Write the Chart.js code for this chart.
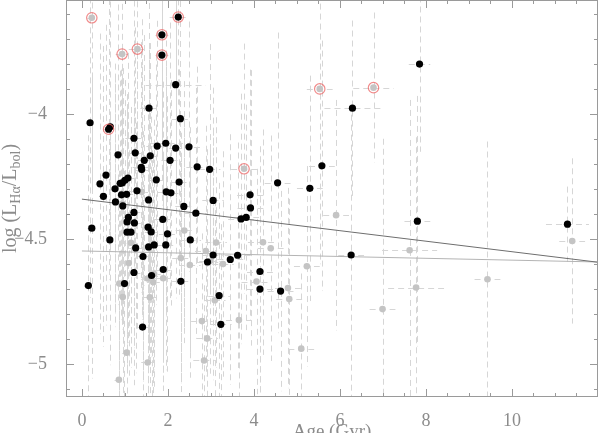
<!DOCTYPE html>
<html>
<head>
<meta charset="utf-8">
<script src="https://cdn.jsdelivr.net/npm/chart.js@4.4.0/dist/chart.umd.min.js"></script>
<style>
  html, body { margin: 0; padding: 0; background: #fff; }
  canvas { display: block; }
</style>
</head>
<body>
<canvas id="chart" width="598" height="433"></canvas>
<script>
// stars with reliable detections (black)
const blackAge = [2.24, 1.86, 1.86, 2.18, 1.56, 2.29, 0.19, 0.62, 0.66, 1.21,
  1.75, 1.95, 2.18, 2.49, 0.84, 1.24, 1.59, 1.45, 2.05, 1.38,
  1.39, 2.68, 2.97, 0.56, 1.07, 1.00, 0.94, 0.89, 0.42, 1.73,
  2.26, 4.55, 0.77, 1.28, 0.50, 0.92, 1.04, 1.96, 2.07, 3.91,
  0.78, 1.55, 3.05, 0.95, 2.37, 1.21, 2.65, 3.92, 3.70, 3.82,
  1.08, 1.88, 0.23, 0.65, 1.05, 1.22, 1.05, 1.14, 1.54, 1.61,
  1.99, 1.25, 1.55, 1.68, 1.95, 2.52, 1.42, 1.21, 1.62, 1.89,
  2.30, 0.15, 0.99, 3.05, 2.92, 3.45, 3.62, 4.14, 4.14, 4.62,
  3.19, 3.23, 1.41, 7.80, 11.29, 6.26, 7.85, 6.29, 5.58, 5.30];
const blackLogL = [-3.613, -3.684, -3.765, -3.883, -3.977, -4.019, -4.035, -4.061, -4.051, -4.097,
  -4.128, -4.117, -4.136, -4.131, -4.163, -4.155, -4.167, -4.185, -4.185, -4.213,
  -4.222, -4.211, -4.221, -4.244, -4.256, -4.265, -4.275, -4.277, -4.279, -4.263,
  -4.272, -4.275, -4.299, -4.307, -4.329, -4.323, -4.321, -4.311, -4.315, -4.323,
  -4.351, -4.343, -4.345, -4.367, -4.369, -4.393, -4.396, -4.375, -4.419, -4.413,
  -4.413, -4.421, -4.456, -4.503, -4.431, -4.435, -4.472, -4.472, -4.452, -4.471,
  -4.479, -4.535, -4.531, -4.523, -4.523, -4.503, -4.569, -4.633, -4.645, -4.621,
  -4.668, -4.685, -4.677, -4.563, -4.591, -4.581, -4.564, -4.629, -4.699, -4.707,
  -4.725, -4.840, -4.851, -4.428, -4.440, -4.563, -3.801, -3.977, -4.207, -4.297];
const blackAgeErr = [0.2, 0.15, 0.15, 0.7, 0.2, 0.2, 0.1, 0.1, 0.1, 0.2,
  0.25, 0.4, 0.15, 0.35, 0.1, 0.15, 0.15, 0.15, 0.2, 0.2,
  0.15, 0.25, 0.25, 0.1, 0.15, 0.1, 0.1, 0.1, 0.1, 0.15,
  0.2, 0.3, 0.1, 0.2, 0.1, 0.1, 0.15, 0.2, 0.2, 0.3,
  0.1, 0.15, 0.25, 0.1, 0.2, 0.15, 0.25, 0.3, 0.3, 0.3,
  0.1, 0.2, 0.1, 0.1, 0.1, 0.15, 0.1, 0.1, 0.15, 0.15,
  0.2, 0.15, 0.15, 0.15, 0.2, 0.25, 0.15, 0.15, 0.15, 0.2,
  0.2, 0.1, 0.1, 0.25, 0.25, 0.3, 0.3, 0.3, 0.3, 0.3,
  0.25, 0.25, 0.15, 0.3, 0.5, 0.3, 0.25, 0.65, 0.3, 0.3];
const blackLogLErr = [0.35, 0.5, 0.6, 0.45, 0.5, 0.55, 0.7, 0.6, 0.5, 0.55,
  0.5, 0.45, 0.6, 0.5, 0.6, 0.5, 0.45, 0.5, 0.55, 0.5,
  0.6, 0.4, 0.5, 0.6, 0.5, 0.4, 0.55, 0.45, 0.6, 0.5,
  0.45, 0.6, 0.5, 0.55, 0.6, 0.5, 0.4, 0.5, 0.45, 0.5,
  0.5, 0.6, 0.45, 0.55, 0.5, 0.45, 0.5, 0.55, 0.5, 0.45,
  0.5, 0.55, 0.6, 0.5, 0.45, 0.5, 0.55, 0.5, 0.45, 0.5,
  0.55, 0.5, 0.45, 0.5, 0.5, 0.45, 0.5, 0.45, 0.5, 0.45,
  0.5, 0.6, 0.45, 0.5, 0.45, 0.5, 0.45, 0.5, 0.45, 0.4,
  0.45, 0.4, 0.45, 0.5, 0.15, 0.6, 0.35, 0.35, 0.5, 0.45];

// stars with weaker detections (grey)
const greyAge = [0.23, 0.935, 1.29, 3.77, 5.53, 6.78, 1.39, 0.93, 2.38, 1.14,
  1.09, 1.66, 0.87, 0.95, 1.53, 1.58, 1.89, 1.68, 2.30, 2.51,
  2.88, 2.98, 3.12, 3.28, 4.06, 4.79, 4.82, 4.21, 4.39, 3.09,
  2.79, 3.65, 2.91, 1.04, 1.53, 2.84, 0.86, 11.40, 7.62, 5.23,
  9.43, 7.77, 6.99, 5.10, 5.91];
const greyLogL = [-3.616, -3.761, -3.741, -4.219, -3.900, -3.895, -4.311, -4.360, -4.465, -4.514,
  -4.595, -4.672, -4.677, -4.731, -4.657, -4.732, -4.656, -4.639, -4.575, -4.603,
  -4.547, -4.587, -4.513, -4.599, -4.669, -4.695, -4.739, -4.512, -4.536, -4.744,
  -4.827, -4.823, -4.896, -4.953, -4.992, -4.984, -5.061, -4.507, -4.544, -4.608,
  -4.660, -4.693, -4.779, -4.937, -4.404];
const greyAgeErr = [0.1, 0.15, 0.2, 0.3, 0.3, 0.47, 0.15, 0.1, 0.2, 0.1,
  0.1, 0.15, 0.1, 0.1, 0.15, 0.15, 0.2, 0.15, 0.2, 0.25,
  0.25, 0.25, 0.25, 0.25, 0.35, 0.3, 0.3, 0.35, 0.3, 0.25,
  0.25, 0.3, 0.25, 0.1, 0.15, 0.25, 0.1, 0.3, 0.64, 0.3,
  0.3, 0.65, 0.3, 0.3, 0.3];
const greyLogLErr = [0.7, 0.6, 0.55, 0.5, 0.7, 0.3, 0.5, 0.5, 0.45, 0.5,
  0.45, 0.5, 0.45, 0.4, 0.45, 0.4, 0.45, 0.45, 0.5, 0.45,
  0.5, 0.45, 0.5, 0.45, 0.45, 0.4, 0.4, 0.45, 0.45, 0.4,
  0.35, 0.35, 0.35, 0.3, 0.3, 0.3, 0.3, 0.33, 0.6, 0.4,
  0.55, 0.6, 0.68, 0.3, 0.46];

// flagged stars (red rings)
const ringAge = [2.24, 1.86, 1.86, 0.62, 0.23, 0.935, 1.29, 3.77, 5.53, 6.78];
const ringLogL = [-3.613, -3.684, -3.765, -4.061, -3.616, -3.761, -3.741, -4.219, -3.900, -3.895];

// linear fits (end points)
const fitAge = [0, 12];
const fitBlack = [-4.340, -4.592];
const fitGrey = [-4.547, -4.591];

// axis ticks
const xTicks = [0, 2, 4, 6, 8, 10];
const yTicks = [-5, -4.5, -4];

const toXY = (xs, ys) => xs.map((v, i) => ({ x: v, y: ys[i] }));

const textColor = '#8c8c8c';
const serif = "'Liberation Serif', 'DejaVu Serif', serif";

const errorBars = {
  id: 'errorBars',
  beforeDatasetsDraw(chart) {
    const { ctx, chartArea: a, scales: { x, y } } = chart;
    ctx.save();
    ctx.beginPath();
    ctx.rect(a.left, a.top, a.width, a.height);
    ctx.clip();
    ctx.strokeStyle = '#d6d6d6';
    ctx.lineWidth = 1;
    ctx.setLineDash([6, 4]);
    const draw = (ages, vals, ageErr, valErr) => {
      ages.forEach((age, i) => {
        const px = Math.round(x.getPixelForValue(age)) + 0.5;
        const py = Math.round(y.getPixelForValue(vals[i])) + 0.5;
        ctx.beginPath();
        ctx.moveTo(px, y.getPixelForValue(vals[i] + valErr[i]));
        ctx.lineTo(px, y.getPixelForValue(vals[i] - valErr[i]));
        ctx.moveTo(x.getPixelForValue(age - ageErr[i]), py);
        ctx.lineTo(x.getPixelForValue(age + ageErr[i]), py);
        ctx.stroke();
      });
    };
    draw(greyAge, greyLogL, greyAgeErr, greyLogLErr);
    draw(blackAge, blackLogL, blackAgeErr, blackLogLErr);
    ctx.restore();
  }
};

const frame = {
  id: 'frame',
  afterDraw(chart) {
    const { ctx, chartArea: a, scales: { x, y } } = chart;
    ctx.save();
    ctx.strokeStyle = '#9a9a9a';
    ctx.lineWidth = 1;
    ctx.strokeRect(a.left + 0.5, a.top + 0.5, a.width - 1, a.height - 1);
    ctx.beginPath();
    for (let v = 0; v <= 12; v += 0.5) {
      const px = Math.round(x.getPixelForValue(v)) + 0.5;
      const len = v % 2 === 0 ? 8 : 4;
      ctx.moveTo(px, a.bottom); ctx.lineTo(px, a.bottom - len);
      ctx.moveTo(px, a.top); ctx.lineTo(px, a.top + len);
    }
    for (let k = -51; k <= -36; k++) {
      const v = k / 10;
      const py = Math.round(y.getPixelForValue(v)) + 0.5;
      const len = k % 5 === 0 ? 8 : 4;
      ctx.moveTo(a.left, py); ctx.lineTo(a.left + len, py);
      ctx.moveTo(a.right, py); ctx.lineTo(a.right - len, py);
    }
    ctx.stroke();

    // axis titles
    ctx.fillStyle = textColor;
    ctx.textBaseline = 'alphabetic';
    ctx.font = '19px ' + serif;
    ctx.textAlign = 'center';
    ctx.fillText('Age (Gyr)', (a.left + a.right) / 2, 437);

    const parts = [['log (L', 20, 0], ['H\u03b1', 14, 4], ['/L', 20, 0], ['bol', 14, 4], [')', 20, 0]];
    let total = 0;
    parts.forEach(p => { ctx.font = p[1] + 'px ' + serif; total += ctx.measureText(p[0]).width; });
    ctx.translate(16, (a.top + a.bottom) / 2);
    ctx.rotate(-Math.PI / 2);
    ctx.textAlign = 'left';
    let cx = -total / 2;
    parts.forEach(p => {
      ctx.font = p[1] + 'px ' + serif;
      ctx.fillText(p[0], cx, p[2]);
      cx += ctx.measureText(p[0]).width;
    });
    ctx.restore();
  }
};

new Chart(document.getElementById('chart'), {
  type: 'scatter',
  data: {
    datasets: [
      {
        data: toXY(ringAge, ringLogL),
        pointRadius: 5.2,
        pointBackgroundColor: 'rgba(0,0,0,0)',
        pointBorderColor: 'rgba(236,100,100,0.75)',
        pointBorderWidth: 1.2
      },
      {
        data: toXY(blackAge, blackLogL),
        pointRadius: 3.6,
        pointBackgroundColor: '#000',
        pointBorderWidth: 0
      },
      {
        data: toXY(greyAge, greyLogL),
        pointRadius: 3.3,
        pointBackgroundColor: '#c4c4c4',
        pointBorderWidth: 0
      },
      {
        type: 'line',
        data: toXY(fitAge, fitBlack),
        borderColor: '#6e6e6e',
        borderWidth: 1,
        pointRadius: 0
      },
      {
        type: 'line',
        data: toXY(fitAge, fitGrey),
        borderColor: '#b4b4b4',
        borderWidth: 1,
        pointRadius: 0
      }
    ]
  },
  options: {
    responsive: false,
    animation: false,
    devicePixelRatio: 1,
    layout: { padding: 0, autoPadding: false },
    plugins: {
      legend: { display: false },
      tooltip: { enabled: false }
    },
    scales: {
      x: {
        type: 'linear',
        min: -0.37,
        max: 12,
        grid: { display: false },
        border: { display: false },
        afterFit: s => { s.height = 36; s.paddingLeft = 0; s.paddingRight = 0; },
        afterBuildTicks: s => { s.ticks = xTicks.map(v => ({ value: v })); },
        ticks: {
          padding: 5,
          color: textColor,
          font: { family: serif, size: 18 },
          callback: v => String(v)
        }
      },
      y: {
        type: 'linear',
        min: -5.13,
        max: -3.545,
        grid: { display: false },
        border: { display: false },
        afterFit: s => { s.width = 66; s.paddingTop = 0; s.paddingBottom = 0; },
        afterBuildTicks: s => { s.ticks = yTicks.map(v => ({ value: v })); },
        ticks: {
          padding: 11,
          color: textColor,
          font: { family: serif, size: 18 },
          callback: v => '\u2212' + Math.abs(v)
        }
      }
    }
  },
  plugins: [errorBars, frame]
});
</script>
</body>
</html>
